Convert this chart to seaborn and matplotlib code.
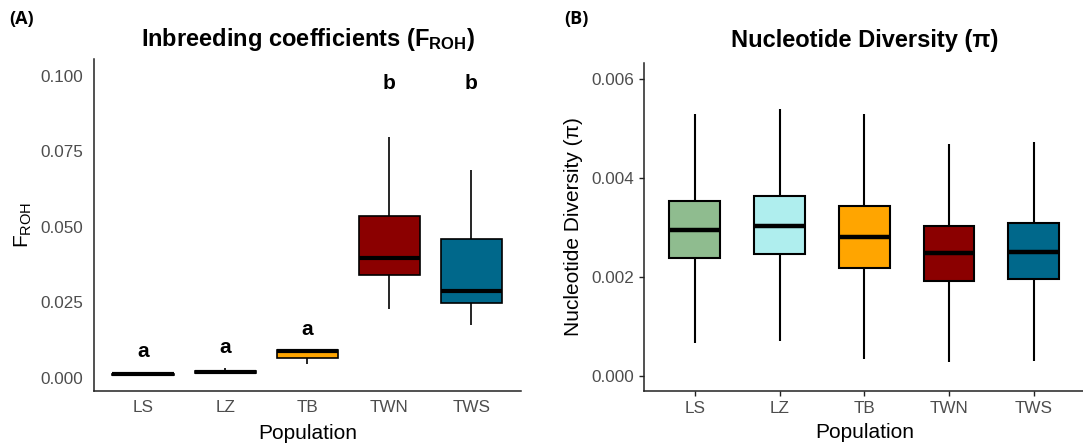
import numpy as np
import pandas as pd
import matplotlib
matplotlib.use("Agg")
import matplotlib.pyplot as plt
import seaborn as sns

# --- Data (five-number summaries) ---
populations = ["LS", "LZ", "TB", "TWN", "TWS"]
pop_colors = ["#8FBC8F", "#AFEEEE", "#FFA500", "#8B0000", "#00688B"]

# (A) inbreeding coefficients F_ROH
froh_min = [0.0010, 0.0013, 0.0045, 0.0226, 0.0174]
froh_q1 = [0.0010, 0.0017, 0.0064, 0.0339, 0.0248]
froh_median = [0.0011, 0.0020, 0.0088, 0.0396, 0.0287]
froh_q3 = [0.0012, 0.0023, 0.0092, 0.0534, 0.0459]
froh_max = [0.0012, 0.0031, 0.0092, 0.0796, 0.0686]
froh_letters = ["a", "a", "a", "b", "b"]
froh_letter_y = [0.0086, 0.0100, 0.0161, 0.0975, 0.0975]

# (B) nucleotide diversity pi
pi_min = [0.00066, 0.00071, 0.00034, 0.00028, 0.00031]
pi_q1 = [0.00239, 0.00246, 0.00219, 0.00192, 0.00197]
pi_median = [0.00296, 0.00304, 0.00281, 0.00248, 0.00251]
pi_q3 = [0.00354, 0.00364, 0.00343, 0.00303, 0.00309]
pi_max = [0.00529, 0.00540, 0.00529, 0.00469, 0.00473]


def long_table(stats):
    """One row per summary value, so the box spans exactly q1..q3."""
    rows = []
    for pop, vals in zip(populations, zip(*stats)):
        for v in vals:
            rows.append({"Population": pop, "value": v})
    return pd.DataFrame(rows)


df_froh = long_table([froh_min, froh_q1, froh_median, froh_q3, froh_max])
df_pi = long_table([pi_min, pi_q1, pi_median, pi_q3, pi_max])

# --- Style ---
sns.set_style("ticks")
plt.rcParams["font.family"] = ["Liberation Sans", "DejaVu Sans"]
plt.rcParams["mathtext.fontset"] = "custom"
plt.rcParams["mathtext.rm"] = "Liberation Sans"
plt.rcParams["mathtext.bf"] = "Liberation Sans:bold"
plt.rcParams["axes.edgecolor"] = "#222222"
plt.rcParams["text.color"] = "black"
plt.rcParams["axes.labelcolor"] = "black"

fig = plt.figure(figsize=(10.83, 4.45), dpi=100)
ax_a = fig.add_axes([0.0868, 0.122, 0.394, 0.7447])
ax_b = fig.add_axes([0.5946, 0.122, 0.4069, 0.7358])

box_kws = dict(x="Population", y="value", hue="Population", palette=pop_colors,
               legend=False, whis=(0, 100), showcaps=False, showfliers=False,
               saturation=1, linecolor="black")

sns.boxplot(data=df_froh, width=0.75, linewidth=1.2,
            medianprops=dict(linewidth=3.0), ax=ax_a, **box_kws)
sns.boxplot(data=df_pi, width=0.6, linewidth=1.5,
            medianprops=dict(linewidth=3.2), ax=ax_b, **box_kws)

for i, (lab, y) in enumerate(zip(froh_letters, froh_letter_y)):
    ax_a.text(i, y, lab, ha="center", va="center", fontsize=15, fontweight="bold")

# --- Axes cosmetics ---
ax_a.set_xlim(-0.6, 4.6)
ax_a.set_ylim(-0.0043, 0.1054)
ax_a.set_yticks([0, 0.025, 0.05, 0.075, 0.1])
ax_a.set_yticklabels([f"{v:.3f}" for v in [0, 0.025, 0.05, 0.075, 0.1]])
ax_a.tick_params(axis="both", length=0, labelsize=12.3, labelcolor="#4D4D4D")
ax_a.tick_params(axis="y", pad=8)
ax_a.tick_params(axis="x", pad=7)

ax_b.set_xlim(-0.6, 4.6)
ax_b.set_ylim(-0.000297, 0.006324)
ax_b.set_yticks([0, 0.002, 0.004, 0.006])
ax_b.set_yticklabels([f"{v:.3f}" for v in [0, 0.002, 0.004, 0.006]])
ax_b.tick_params(axis="both", length=3.4, width=1.0, color="#222222",
                 labelsize=12.3, labelcolor="#4D4D4D")
ax_b.tick_params(axis="y", pad=3.5)
ax_b.tick_params(axis="x", pad=4)

for ax in (ax_a, ax_b):
    sns.despine(ax=ax)
    for side in ("left", "bottom"):
        ax.spines[side].set_linewidth(1.1)
    ax.set_xlabel("Population", fontsize=15)
    ax.xaxis.set_label_coords(0.5, -0.1285)
    ax.xaxis.label.set_va("center")

ax_a.set_ylabel(r"$\mathrm{F_{ROH}}$", fontsize=15)
ax_a.yaxis.set_label_coords(-0.166, 0.5)
ax_b.set_ylabel("Nucleotide Diversity (\u03c0)", fontsize=15)
ax_b.yaxis.set_label_coords(-0.161, 0.5)
for ax in (ax_a, ax_b):
    ax.yaxis.label.set_va("center")

fig.text(0.2844, 0.911, r"Inbreeding coefficients ($\mathbf{F_{ROH}}$)",
         ha="center", va="center", fontsize=17, fontweight="bold")
fig.text(0.7987, 0.908, "Nucleotide Diversity (\u03c0)",
         ha="center", va="center", fontsize=17, fontweight="bold")

fig.text(0.009, 0.957, "(A)", ha="left", va="center", fontsize=13,
         fontweight="bold", family=["Open Sans", "DejaVu Sans"])
fig.text(0.521, 0.957, "(B)", ha="left", va="center", fontsize=13,
         fontweight="bold", family=["Open Sans", "DejaVu Sans"])

fig.savefig("out.png", dpi=100)
